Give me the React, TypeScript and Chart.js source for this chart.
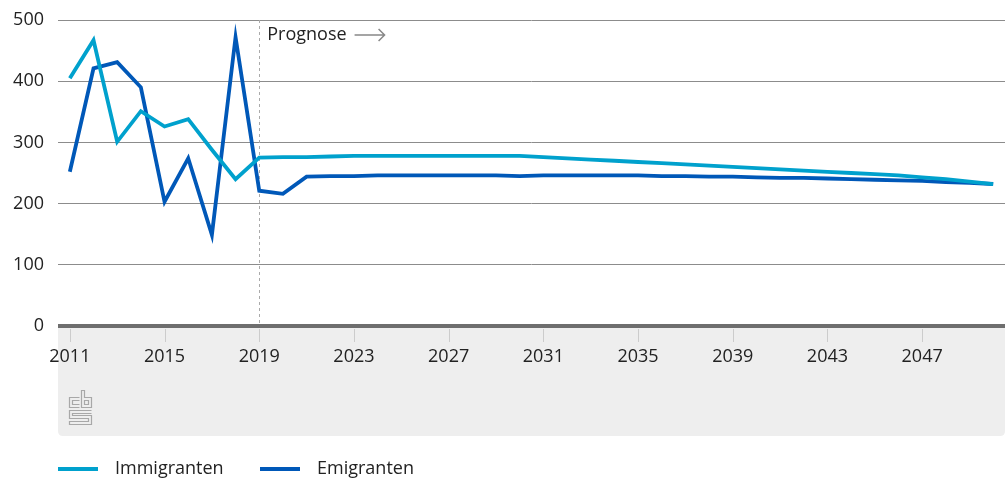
import React, { useEffect, useRef } from 'react';
import { Chart, registerables } from 'chart.js';

Chart.register(...registerables);

const years: string[] = [
  '2011', '2012', '2013', '2014', '2015', '2016', '2017', '2018', '2019', '2020',
  '2021', '2022', '2023', '2024', '2025', '2026', '2027', '2028', '2029', '2030',
  '2031', '2032', '2033', '2034', '2035', '2036', '2037', '2038', '2039', '2040',
  '2041', '2042', '2043', '2044', '2045', '2046', '2047', '2048', '2049', '2050',
];

const immigranten: number[] = [
  405, 467, 301, 351, 326, 338, 288, 240, 275, 276,
  276, 277, 278, 278, 278, 278, 278, 278, 278, 278,
  276, 274, 272, 270, 268, 266, 264, 262, 260, 258,
  256, 254, 252, 250, 248, 246, 243, 240, 236, 232,
];

const emigranten: number[] = [
  252, 421, 431, 390, 203, 274, 149, 472, 221, 216,
  244, 245, 245, 246, 246, 246, 246, 246, 246, 245,
  246, 246, 246, 246, 246, 245, 245, 244, 244, 243,
  242, 242, 241, 240, 239, 238, 237, 235, 234, 232,
];

const seriesNames: string[] = ['Immigranten', 'Emigranten'];
const seriesColors: string[] = ['#00a1cd', '#0058b8'];
const yTicks: number[] = [0, 100, 200, 300, 400, 500];
const forecastStart = '2019';
const forecastLabel = 'Prognose';

const FONT = '"Open Sans", sans-serif';
const TEXT = '#222222';

const decorPlugin = {
  id: 'decor',
  beforeDraw(chart: any) {
    const { ctx, chartArea } = chart;
    const left = chartArea.left;
    const right = chartArea.right;
    const top = chartArea.bottom;
    const bottom = chartArea.bottom + 110;
    const r = 5;
    ctx.save();
    ctx.fillStyle = '#eeeeee';
    ctx.beginPath();
    ctx.moveTo(left, top);
    ctx.lineTo(right, top);
    ctx.lineTo(right, bottom - r);
    ctx.quadraticCurveTo(right, bottom, right - r, bottom);
    ctx.lineTo(left + r, bottom);
    ctx.quadraticCurveTo(left, bottom, left, bottom - r);
    ctx.closePath();
    ctx.fill();

    // tick marks
    const xs = chart.scales.x;
    ctx.strokeStyle = '#cccccc';
    ctx.lineWidth = 1;
    years.forEach((y, i) => {
      if (i % 4 !== 0) return;
      const px = Math.round(xs.getPixelForValue(i)) + 0.5;
      ctx.beginPath();
      ctx.moveTo(px, top + 3);
      ctx.lineTo(px, top + 16);
      ctx.stroke();
    });

    // logo
    const lx = 69.5;
    const ly = 390.5;
    ctx.strokeStyle = '#a8a8a8';
    ctx.lineWidth = 1.2;
    ctx.beginPath();
    // c
    ctx.moveTo(lx + 10, ly + 7);
    ctx.lineTo(lx, ly + 7);
    ctx.lineTo(lx, ly + 17);
    ctx.lineTo(lx + 10, ly + 17);
    ctx.moveTo(lx + 10, ly + 10);
    ctx.lineTo(lx + 3, ly + 10);
    ctx.lineTo(lx + 3, ly + 14);
    ctx.lineTo(lx + 10, ly + 14);
    // b
    ctx.moveTo(lx + 12, ly);
    ctx.lineTo(lx + 12, ly + 17);
    ctx.lineTo(lx + 22, ly + 17);
    ctx.lineTo(lx + 22, ly + 7);
    ctx.lineTo(lx + 15, ly + 7);
    ctx.lineTo(lx + 15, ly);
    ctx.closePath();
    ctx.rect(lx + 15, ly + 10, 4, 4);
    // S
    ctx.moveTo(lx + 22, ly + 20);
    ctx.lineTo(lx, ly + 20);
    ctx.lineTo(lx, ly + 28);
    ctx.lineTo(lx + 19, ly + 28);
    ctx.lineTo(lx + 19, ly + 31);
    ctx.lineTo(lx, ly + 31);
    ctx.lineTo(lx, ly + 34);
    ctx.lineTo(lx + 22, ly + 34);
    ctx.lineTo(lx + 22, ly + 25);
    ctx.lineTo(lx + 3, ly + 25);
    ctx.lineTo(lx + 3, ly + 23);
    ctx.lineTo(lx + 22, ly + 23);
    ctx.stroke();
    ctx.restore();
  },
  beforeDatasetsDraw(chart: any) {
    const { ctx, chartArea } = chart;
    const xs = chart.scales.x;
    const px = Math.round(xs.getPixelForValue(years.indexOf(forecastStart))) + 0.5;
    ctx.save();
    ctx.strokeStyle = '#aaaaaa';
    ctx.lineWidth = 1;
    ctx.setLineDash([3, 3]);
    ctx.beginPath();
    ctx.moveTo(px, chartArea.top);
    ctx.lineTo(px, chartArea.bottom);
    ctx.stroke();
    ctx.restore();
  },
  afterDraw(chart: any) {
    const { ctx, chartArea } = chart;
    const xs = chart.scales.x;
    const px = xs.getPixelForValue(years.indexOf(forecastStart));
    ctx.save();
    ctx.font = '18px ' + FONT;
    ctx.fillStyle = TEXT;
    ctx.textBaseline = 'middle';
    ctx.textAlign = 'left';
    const tx = px + 8;
    const ty = chartArea.top + 15;
    ctx.fillText(forecastLabel, tx, ty);
    const w = ctx.measureText(forecastLabel).width;
    const ax0 = tx + w + 8;
    const ax1 = ax0 + 30;
    ctx.strokeStyle = '#888888';
    ctx.lineWidth = 1.5;
    ctx.beginPath();
    ctx.moveTo(ax0, ty);
    ctx.lineTo(ax1, ty);
    ctx.moveTo(ax1 - 6, ty - 6);
    ctx.lineTo(ax1, ty);
    ctx.lineTo(ax1 - 6, ty + 6);
    ctx.stroke();

    // legend
    const ly = 469;
    const starts = [58, 260];
    seriesNames.forEach((name, i) => {
      const x0 = starts[i];
      ctx.strokeStyle = seriesColors[i];
      ctx.lineWidth = 4;
      ctx.beginPath();
      ctx.moveTo(x0, ly);
      ctx.lineTo(x0 + 40, ly);
      ctx.stroke();
      ctx.fillStyle = TEXT;
      ctx.fillText(name, x0 + 57, ly);
    });
    ctx.restore();
  },
};

export default function App() {
  const canvasRef = useRef<HTMLCanvasElement | null>(null);

  useEffect(() => {
    if (!canvasRef.current) return;
    const chart = new Chart(canvasRef.current, {
      type: 'line',
      data: {
        labels: years,
        datasets: [
          {
            label: seriesNames[0],
            data: immigranten,
            borderColor: seriesColors[0],
            backgroundColor: seriesColors[0],
            borderWidth: 3.8,
            pointRadius: 0,
            tension: 0,
          },
          {
            label: seriesNames[1],
            data: emigranten,
            borderColor: seriesColors[1],
            backgroundColor: seriesColors[1],
            borderWidth: 3.8,
            pointRadius: 0,
            tension: 0,
          },
        ],
      },
      options: {
        animation: false,
        responsive: true,
        maintainAspectRatio: false,
        layout: { padding: { top: 20, left: 0, right: 0, bottom: 0 } },
        plugins: {
          legend: { display: false },
          tooltip: { enabled: false },
        },
        scales: {
          x: {
            type: 'category',
            offset: true,
            grid: { display: false, drawTicks: false },
            border: { display: false },
            ticks: {
              autoSkip: false,
              maxRotation: 0,
              minRotation: 0,
              padding: 20,
              color: TEXT,
              font: { family: FONT, size: 18 },
              callback: (_v: any, i: number) => (i % 4 === 0 ? years[i] : ''),
            },
            afterFit: (scale: any) => {
              scale.height = 158;
              scale.paddingLeft = 0;
              scale.paddingRight = 0;
            },
          },
          y: {
            min: 0,
            max: 500,
            afterBuildTicks: (scale: any) => {
              scale.ticks = yTicks.map((v) => ({ value: v }));
            },
            grid: {
              drawTicks: false,
              color: (c: any) => (c.tick && c.tick.value === 0 ? '#6e6e6e' : '#8c8c8c'),
              lineWidth: (c: any) => (c.tick && c.tick.value === 0 ? 4 : 1),
            },
            border: { display: false },
            ticks: {
              padding: 14,
              color: TEXT,
              font: { family: FONT, size: 18 },
            },
            afterFit: (scale: any) => {
              scale.width = 58;
              scale.paddingTop = 0;
              scale.paddingBottom = 0;
            },
          },
        },
      },
      plugins: [decorPlugin],
    });
    return () => chart.destroy();
  }, []);

  return (
    <div style={{ position: 'absolute', left: 0, top: 0, width: 1005, height: 484, background: '#fff' }}>
      <canvas ref={canvasRef} />
    </div>
  );
}
